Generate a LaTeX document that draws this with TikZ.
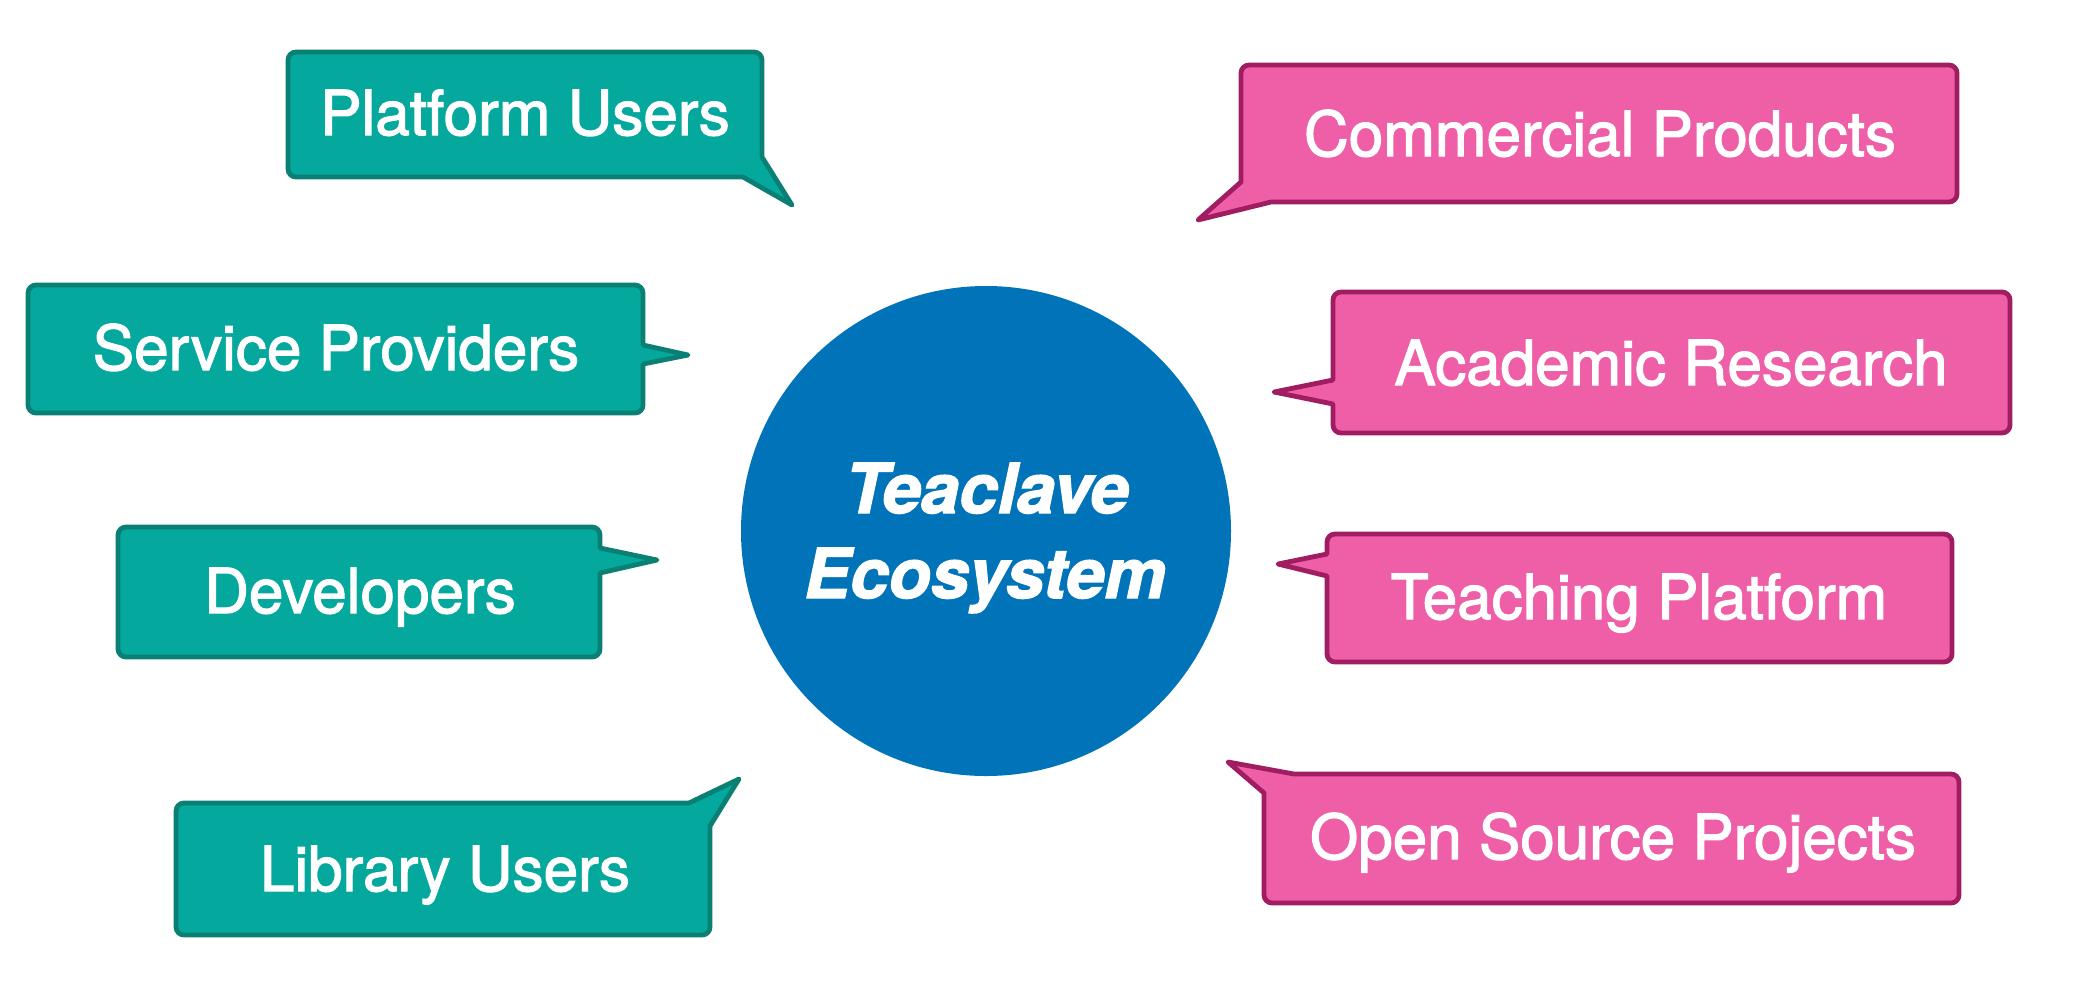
\documentclass[tikz,border=0pt]{standalone}
\usepackage{fontspec}
\setmainfont{TeX Gyre Heros}
\newfontfamily\calloutfont{TeX Gyre Heros}[FakeBold=2]
\newfontfamily\hubfont{TeX Gyre Heros}[FakeBold=2]
\definecolor{tealfill}{HTML}{05A89D}
\definecolor{tealline}{HTML}{0A8074}
\definecolor{pinkfill}{HTML}{EF5FA7}
\definecolor{pinkline}{HTML}{A01D62}
\definecolor{ecoblue}{HTML}{0174B9}
\tikzset{
  tealcallout/.style={fill=tealfill, draw=tealline, line width=2.4pt, line join=round},
  pinkcallout/.style={fill=pinkfill, draw=pinkline, line width=2.4pt, line join=round},
  calloutlabel/.style={anchor=base, text=white, inner sep=0pt, font=\calloutfont\fontsize{31}{37}\selectfont},
  hubtext/.style={anchor=base, text=white, inner sep=0pt, font=\hubfont\fontsize{34.5}{41}\selectfont\bfseries\itshape},
}
\begin{document}
\begin{tikzpicture}[x=0.5pt, y=-0.5pt]
\useasboundingbox (0,0) rectangle (2078,982);

% central hub
\node[circle, fill=ecoblue, minimum size=245pt, inner sep=0pt] (hub) at (986,531) {};
\node[hubtext] (hubA) at (987,513) {Teaclave};
\node[hubtext] (hubB) at (985,598) {Ecosystem};

% left (teal) callouts
\draw[tealcallout] (762,157) [sharp corners] -- (792,205) -- (743,177) [rounded corners=4pt] -- (288,177) -- (288,52) -- (762,52) [sharp corners] -- cycle;
\node[calloutlabel] (platform) at (525,135) {Platform Users};

\draw[tealcallout] (643,345) [sharp corners] -- (688,355) -- (643,364) [rounded corners=4pt] -- (643,413) -- (28,413) -- (28,285) -- (643,285) [sharp corners] -- cycle;
\node[calloutlabel] (service) at (336,370) {Service Providers};

\draw[tealcallout] (600,548) [sharp corners] -- (657,560) -- (600,573) [rounded corners=4pt] -- (600,657) -- (118,657) -- (118,527) -- (600,527) [sharp corners] -- cycle;
\node[calloutlabel] (developers) at (360,613) {Developers};

\draw[tealcallout] (689,803) [sharp corners] -- (739,779) -- (710,826) [rounded corners=4pt] -- (710,935) -- (176,935) -- (176,803) [sharp corners] -- cycle;
\node[calloutlabel] (library) at (445,891) {Library Users};

% right (pink) callouts
\draw[pinkcallout] (1271,202) [sharp corners] -- (1198,220) -- (1241,182) [rounded corners=4pt] -- (1241,65) -- (1957,65) -- (1957,202) [sharp corners] -- cycle;
\node[calloutlabel] (commercial) at (1600,156) {Commercial Products};

\draw[pinkcallout] (1333,404) [sharp corners] -- (1274,392) -- (1333,380) [rounded corners=4pt] -- (1333,292) -- (2010,292) -- (2010,433) -- (1333,433) [sharp corners] -- cycle;
\node[calloutlabel] (academic) at (1671,385) {Academic Research};

\draw[pinkcallout] (1327,576) [sharp corners] -- (1278,564) -- (1327,554) [rounded corners=4pt] -- (1327,534) -- (1952,534) -- (1952,662) -- (1327,662) [sharp corners] -- cycle;
\node[calloutlabel] (teaching) at (1639,619) {Teaching Platform};

\draw[pinkcallout] (1264,793) [sharp corners] -- (1228,762) -- (1294,774) [rounded corners=4pt] -- (1959,774) -- (1959,903) -- (1264,903) [sharp corners] -- cycle;
\node[calloutlabel] (opensource) at (1613,859) {Open Source Projects};
\end{tikzpicture}
\end{document}
